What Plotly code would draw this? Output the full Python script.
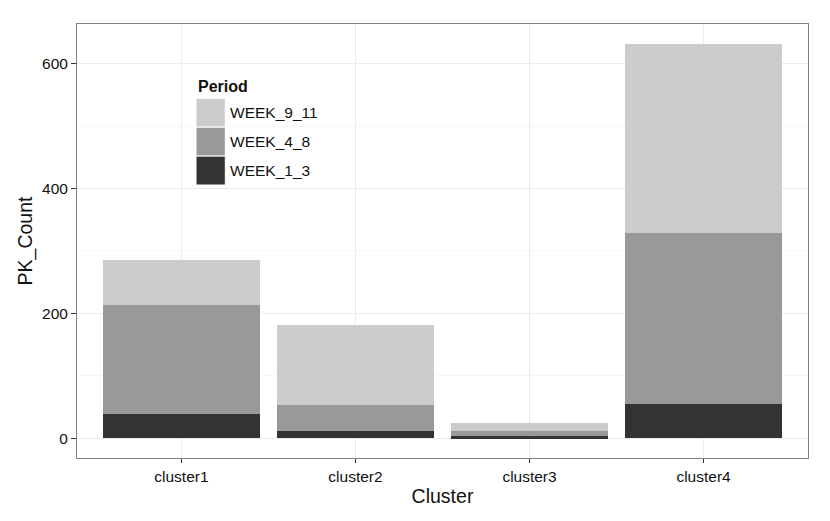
import plotly.graph_objects as go

clusters = ["cluster1", "cluster2", "cluster3", "cluster4"]
series_names = ["WEEK_1_3", "WEEK_4_8", "WEEK_9_11"]
week_1_3 = [39, 12, 3, 55]
week_4_8 = [174, 42, 9, 274]
week_9_11 = [72, 127, 13, 303]
series_values = [week_1_3, week_4_8, week_9_11]
colors = ["#333333", "#999999", "#CCCCCC"]
y_ticks = [0, 200, 400, 600]

FONT = "Liberation Sans, Arial, Helvetica, sans-serif"
TXT = "#111111"

fig = go.Figure()
for name, vals, col in zip(series_names, series_values, colors):
    fig.add_trace(go.Bar(
        x=clusters, y=vals, name=name,
        marker=dict(color=col, line=dict(width=0)),
        showlegend=False,
    ))

total_max = max(a + b + c for a, b, c in zip(*series_values))
pad = 0.05 * total_max

W, H = 830, 521
L, R, T, B = 77, 22, 24, 63

fig.update_layout(
    barmode="stack",
    bargap=0.1,
    width=W, height=H,
    margin=dict(l=L, r=R, t=T, b=B, autoexpand=False),
    paper_bgcolor="white",
    plot_bgcolor="white",
    font=dict(family=FONT, size=15.5, color=TXT),
    xaxis=dict(
        type="category",
        automargin=False,
        range=[-0.6, len(clusters) - 0.4],
        showgrid=True, gridcolor="#EBEBEB", gridwidth=1,
        showline=True, mirror=True, linecolor="#7F7F7F", linewidth=1,
        ticks="outside", ticklen=4, tickcolor="#333333", tickwidth=1,
        tickfont=dict(size=15.5, color=TXT),
        title=dict(text="Cluster", font=dict(size=19.5, color=TXT), standoff=5),
    ),
    yaxis=dict(
        automargin=False,
        range=[-pad, total_max + pad],
        tickvals=y_ticks,
        showgrid=True, gridcolor="#EBEBEB", gridwidth=1,
        minor=dict(dtick=100, tick0=0, showgrid=True, gridcolor="#F7F7F7", ticks=""),
        zeroline=False,
        showline=True, mirror=True, linecolor="#7F7F7F", linewidth=1,
        ticks="outside", ticklen=5, tickcolor="#333333", tickwidth=1,
        tickfont=dict(size=15.5, color=TXT),
        title=dict(text="PK_Count", font=dict(size=19.5, color=TXT), standoff=4),
    ),
)

# Legend drawn inside the panel (ggplot style); convert figure pixels to plot-area fractions
PW, PH = W - L - R, H - T - B
def px(x):
    return (x - L) / PW
def py(y):
    return 1 - (y - T) / PH

shapes = []
annotations = [dict(
    x=px(196), y=py(86.5), xref="paper", yref="paper",
    text="<b>Period</b>", showarrow=False, xanchor="left", yanchor="middle",
    font=dict(family=FONT, size=16, color=TXT),
)]
key_top = 98.3
key_h = 28.9
for i, (name, col) in enumerate(reversed(list(zip(series_names, colors)))):
    y0 = key_top + i * key_h
    y1 = y0 + key_h
    shapes.append(dict(
        type="rect", xref="paper", yref="paper",
        x0=px(196), x1=px(225.3), y0=py(y1), y1=py(y0),
        fillcolor=col, line=dict(color="white", width=1), layer="above",
    ))
    annotations.append(dict(
        x=px(227.5), y=py((y0 + y1) / 2), xref="paper", yref="paper",
        text=name, showarrow=False, xanchor="left", yanchor="middle",
        font=dict(family=FONT, size=15.5, color=TXT),
    ))
fig.update_layout(shapes=shapes, annotations=annotations)

fig.write_html(
    "out.html",
    config={"displayModeBar": False},
    post_script="document.body.style.margin='0';document.body.style.overflow='hidden';",
)
